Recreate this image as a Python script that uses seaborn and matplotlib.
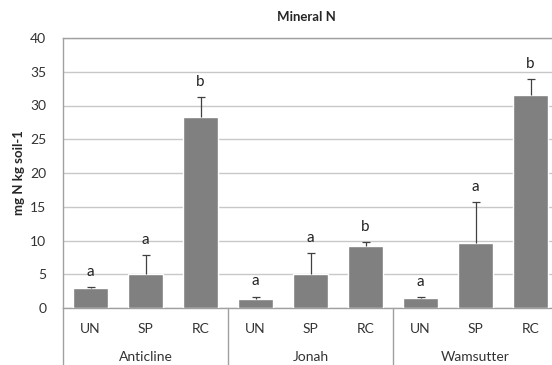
import pandas as pd
import seaborn as sns
import matplotlib.pyplot as plt
import matplotlib.transforms as mtransforms

sns.set_style('white')
plt.rcParams['font.family'] = ['Lato', 'DejaVu Sans']

# data
sites = ['Anticline', 'Jonah', 'Wamsutter']
treatments = ['UN', 'SP', 'RC']
values = [2.9, 5.1, 28.3, 1.4, 5.0, 9.2, 1.5, 9.6, 31.5]
errors = [0.2, 2.7, 2.9, 0.3, 3.1, 0.6, 0.1, 6.1, 2.4]
letters = ['a', 'a', 'b', 'a', 'a', 'b', 'a', 'a', 'b']

df = pd.DataFrame({
    'site': [s for s in sites for _ in treatments],
    'treatment': treatments * len(sites),
    'value': values,
    'err': errors,
    'letter': letters,
})
df['key'] = df['site'] + '_' + df['treatment']
df['top'] = df['value'] + df['err']

fig = plt.figure(figsize=(5.52, 3.65), dpi=100)
ax = fig.add_axes([63 / 552, 1 - 308 / 365, 495 / 552, 270 / 365])

sns.barplot(data=df, x='key', y='value', order=list(df['key']), color='#808080',
            saturation=1, width=0.65, errorbar=None, ax=ax, zorder=3)
# upper-only error bars: stem plus a cap at the top
ax.vlines(range(len(df)), df['value'], df['top'], color='#404040', linewidth=0.9, zorder=4)
ax.plot(range(len(df)), df['top'], linestyle='none', marker='_', markersize=6,
        markeredgewidth=0.9, color='#404040', zorder=4)

for i, row in df.iterrows():
    ax.text(i, row['top'] + 1.2, row['letter'], ha='center', va='bottom',
            fontsize=11, color='#222222')

ax.set_ylim(0, 40)
ax.set_xlim(-0.5, 8.5)
ax.set_yticks(range(0, 41, 5))
ax.tick_params(axis='y', length=0, labelsize=10, colors='#333333', pad=12)
ax.yaxis.grid(True, color='#c8c8c8', linewidth=1)
ax.set_axisbelow(True)
for side in ['left', 'top', 'right', 'bottom']:
    ax.spines[side].set_color('#a0a0a0')
    ax.spines[side].set_linewidth(1)

# two-level category axis
ax.set_xticks(range(len(df)))
ax.set_xticklabels(df['treatment'])
ax.tick_params(axis='x', length=0, labelsize=10, colors='#333333', pad=11)
ax.set_xlabel('')
trans = mtransforms.blended_transform_factory(ax.transData, ax.transAxes)
for xs in [-0.5, 2.5, 5.5, 8.5]:
    ax.plot([xs, xs], [0, -0.25], color='#a0a0a0', linewidth=1, transform=trans, clip_on=False)
for j, s in enumerate(sites):
    ax.text(j * 3 + 1, -0.183, s, transform=trans, ha='center', va='center',
            fontsize=10, color='#333333')

ax.set_ylabel('mg N kg soil-1', fontsize=9.5, fontweight='bold', labelpad=4)
fig.text(306 / 552, 1 - 17 / 365, 'Mineral N', ha='center', va='center',
         fontsize=9.5, fontweight='bold')

fig.savefig('out.png', dpi=100)
